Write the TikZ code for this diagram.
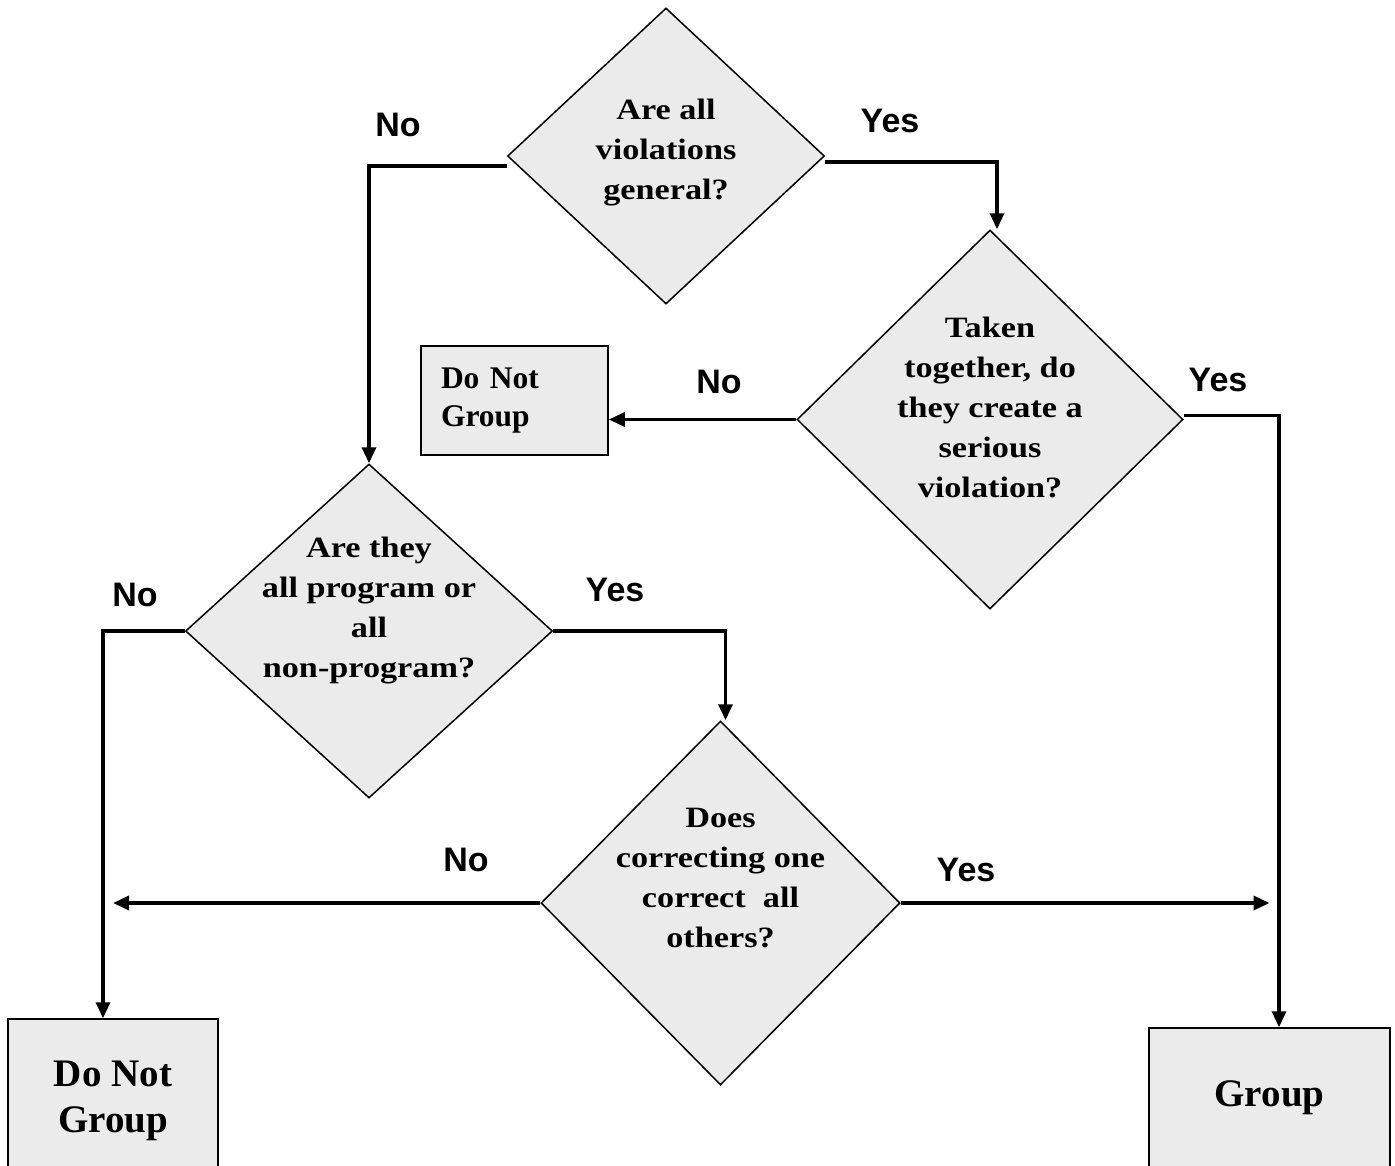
\documentclass[tikz,border=0pt]{standalone}
\usepackage{fontspec}
\setmainfont{Liberation Serif}
\newfontfamily\qfont[FakeStretch=1.16]{Liberation Serif}
\newfontfamily\ansfont{Liberation Sans}
\usetikzlibrary{shapes.geometric,arrows.meta}
\definecolor{qgray}{RGB}{235,235,235}

\begin{document}
\begin{tikzpicture}[x=1pt,y=-1pt,
  ques/.style={diamond,draw,line width=1.5pt,fill=qgray,inner sep=0pt},
  qtext/.style={align=center,font=\qfont\bfseries\fontsize{29.5}{40}\selectfont},
  endbox/.style={rectangle,draw,line width=1.5pt,fill=qgray,inner sep=0pt,align=center},
  conn/.style={line width=3.4pt},
  arr/.style={conn,-{Triangle[length=16pt,width=14pt]}},
  ans/.style={font=\ansfont\bfseries\fontsize{34}{40}\selectfont}]
\useasboundingbox (0,0) rectangle (1395,1165);
\clip (0,0) rectangle (1395,1165);

% questions
\node [ques, minimum width=317pt, minimum height=296pt] (d1) at (666,156) {};
\node [ques, minimum width=386pt, minimum height=379pt] (d2) at (990,419.5) {};
\node [ques, minimum width=367pt, minimum height=334pt] (d3) at (369,631) {};
\node [ques, minimum width=359pt, minimum height=364pt] (d4) at (720.5,903) {};
\node [qtext] (q1) at ([yshift=3pt]d1.center) {Are all\\violations\\general?};
\node [qtext] (q2) at ([yshift=12pt]d2.center) {Taken\\together, do\\they create a\\serious\\violation?};
\node [qtext] (q3) at ([yshift=20pt]d3.center) {Are they\\all program or\\all\\non-program?};
\node [qtext] (q4) at ([yshift=25pt]d4.center) {Does\\correcting one\\correct\ \ all\\others?};

% outcomes
\node [endbox, minimum width=187pt, minimum height=109pt, text width=147pt, align=left,
       font=\bfseries\fontsize{31.5}{38}\selectfont] (b1) at (514.5,400.5) {Do Not\\Group};
\node [endbox, minimum width=210pt, minimum height=164pt,
       font=\bfseries\fontsize{39}{46}\selectfont] (b2) at (113,1101) {Do Not\\Group};
\node [endbox, minimum width=241pt, minimum height=139pt,
       font=\bfseries\fontsize{39}{46}\selectfont] (b3) at (1269.5,1097.5) {Group};

% connectors
\draw [arr] ([yshift=-10pt]d1.west) -| (d3.north);
\draw [arr] ([yshift=-6pt]d1.east) -| ([xshift=7pt]d2.north);
\draw [arr] (d2.west) -- (d2.west -| b1.east);
\draw [arr] ([yshift=4pt]d2.east) -| ([xshift=9.5pt]b3.north);
\draw [arr] (d3.west) -| ([xshift=-10pt]b2.north);
\draw [arr] (d3.east) -| ([xshift=5pt]d4.north);
\draw [arr] (d4.west) -- (d4.west -| b2.north);
\draw [arr] (d4.east) -- (d4.east -| b3.north);

% answers
\node [ans] (n1) at (398,125) {No};
\node [ans] (y1) at (890,121) {Yes};
\node [ans] (n2) at (719,382) {No};
\node [ans] (y2) at (1218,380) {Yes};
\node [ans] (n3) at (135,595) {No};
\node [ans] (y3) at (615,590) {Yes};
\node [ans] (n4) at (466,860) {No};
\node [ans] (y4) at (966,870) {Yes};
\end{tikzpicture}
\end{document}
